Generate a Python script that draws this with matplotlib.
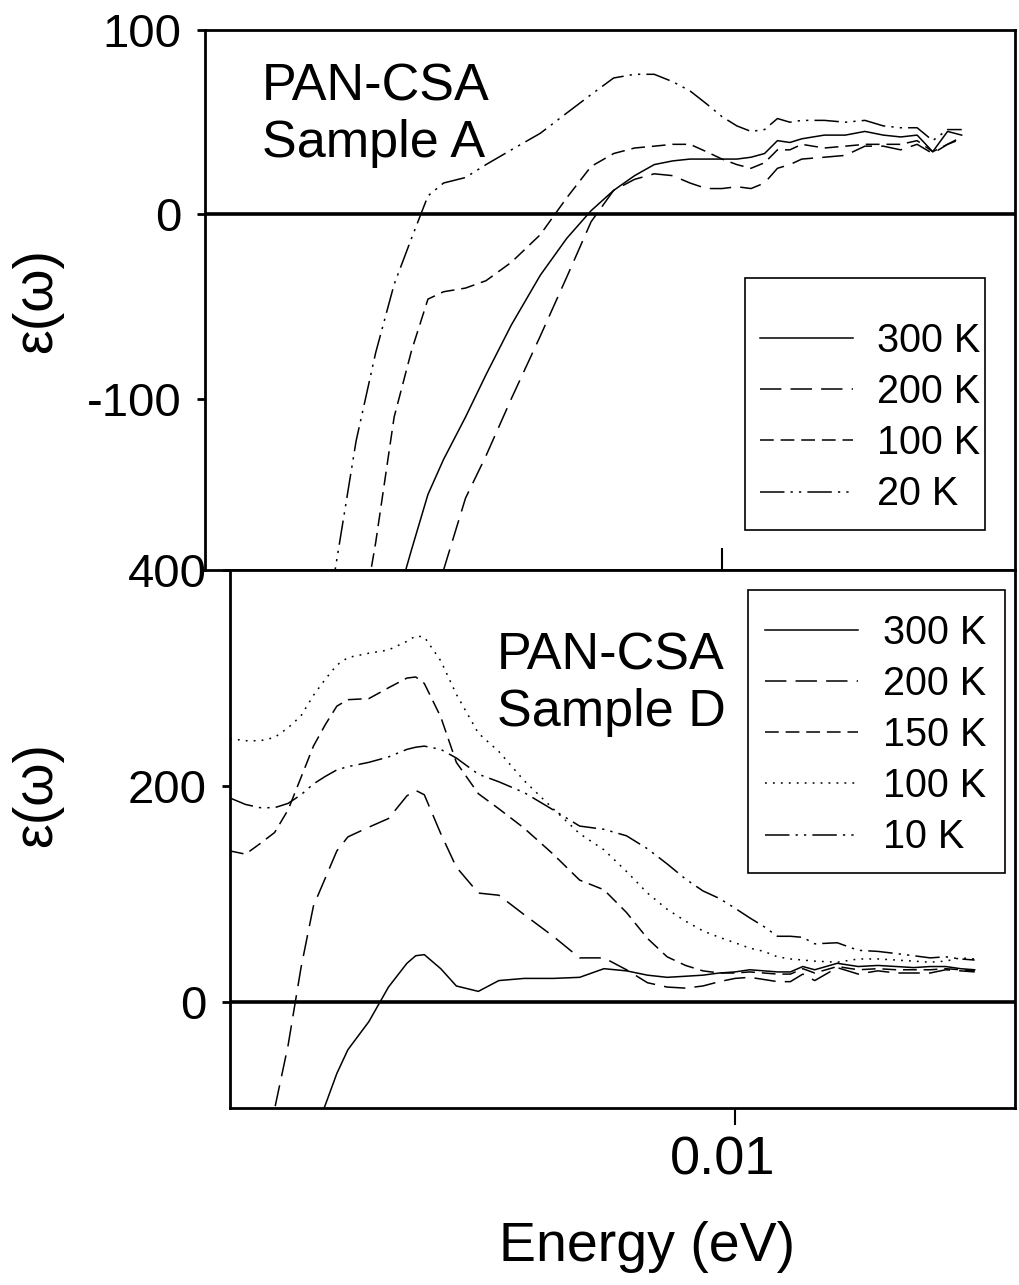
import numpy as np
import matplotlib
matplotlib.use("Agg")
import matplotlib.pyplot as plt
from matplotlib.ticker import NullLocator
from matplotlib.patches import Rectangle
from matplotlib.transforms import ScaledTranslation

plt.rcParams['font.family'] = ['Liberation Sans', 'DejaVu Sans']
plt.rcParams['axes.unicode_minus'] = False

nan = np.nan

# Sample A: energy (eV) and dielectric function at each temperature
E_a = [0.0027, 0.0028, 0.003, 0.0032, 0.0034, 0.0036, 0.0038, 0.004, 0.0043, 0.0046,
       0.005, 0.0055, 0.006, 0.0065, 0.007, 0.0075, 0.008, 0.0085, 0.009, 0.0095,
       0.01, 0.0105, 0.011, 0.0115, 0.012, 0.0125, 0.013, 0.014, 0.015, 0.016,
       0.017, 0.018, 0.019, 0.02, 0.021, 0.022]
eps_a_300 = [nan, nan, nan, -250, -215, -182, -152, -133, -110, -87,
             -60, -33, -13, 2, 13, 21, 27, 29, 30, 30,
             30, 30, 31, 33, 40, 39, 41, 43, 43, 45,
             43, 42, 43, 34, 45, 43]
eps_a_200 = [nan, nan, nan, nan, nan, nan, -225, -193, -154, -131,
             -100, -66, -34, -4, 13, 19, 22, 21, 17, 14,
             14, 15, 14, 17, 25, 27, 30, 31, 32, 37,
             37, 35, 38, 33, 38, 42]
eps_a_100 = [nan, -290, -240, -178, -110, -74, -46, -42, -40, -36,
             -26, -11, 9, 26, 33, 36, 37, 38, 38, 34,
             30, 27, 25, 28, 35, 35, 38, 36, 37, 38,
             38, 38, 40, 34, 38, 41]
eps_a_20 = [-230, -193, -123, -75, -38, -13, 10, 17, 20, 27,
            35, 44, 55, 65, 74, 76, 76, 72, 67, 60,
            53, 48, 45, 46, 52, 50, 51, 51, 50, 51,
            48, 47, 47, 40, 46, 46]

# Sample D
E_d = [0.0019, 0.002, 0.0021, 0.0022, 0.0023, 0.0024, 0.0025, 0.0026, 0.0027, 0.0028,
       0.003, 0.0032, 0.0034, 0.0035, 0.0036, 0.0038, 0.004, 0.0043, 0.0046, 0.005,
       0.0055, 0.006, 0.0065, 0.007, 0.0075, 0.008, 0.0085, 0.009, 0.0095, 0.01,
       0.0105, 0.011, 0.0115, 0.012, 0.0125, 0.013, 0.014, 0.015, 0.016, 0.017,
       0.018, 0.019, 0.02, 0.021, 0.022]
eps_d_300 = [nan, nan, nan, nan, nan, nan, -125, -95, -66, -44,
             -18, 14, 36, 43, 44, 31, 15, 10, 20, 22,
             22, 23, 31, 29, 25, 23, 24, 25, 27, 28,
             30, 29, 28, 28, 33, 30, 36, 33, 34, 33,
             32, 33, 33, 31, 30]
eps_d_200 = [nan, nan, -180, -99, -40, 32, 89, 115, 140, 153,
             162, 170, 191, 196, 192, 156, 125, 101, 99, 81,
             61, 41, 41, 30, 18, 14, 13, 15, 19, 22,
             23, 21, 19, 19, 26, 20, 32, 26, 29, 27,
             27, 27, 30, 29, 28]
eps_d_150 = [140, 137, 147, 157, 178, 208, 237, 257, 274, 280,
             281, 291, 300, 301, 295, 264, 222, 193, 179, 161,
             137, 113, 104, 83, 59, 42, 34, 29, 27, 27,
             28, 27, 26, 26, 31, 27, 33, 30, 31, 30,
             30, 30, 31, 30, 29]
eps_d_100 = [244, 242, 242, 245, 254, 265, 284, 299, 312, 319,
             323, 326, 334, 339, 338, 316, 285, 249, 232, 205,
             179, 156, 141, 121, 101, 86, 75, 66, 60, 55,
             50, 47, 42, 40, 39, 38, 37, 40, 40, 39,
             38, 37, 38, 41, 40]
eps_d_10 = [189, 183, 180, 180, 184, 192, 202, 209, 215, 218,
            222, 227, 234, 236, 237, 234, 226, 211, 204, 194,
            178, 163, 160, 154, 142, 128, 114, 103, 96, 87,
            78, 70, 61, 61, 60, 54, 55, 48, 47, 45,
            43, 41, 42, 40, 39]

solid = '-'
long_dash = (0, (14, 6))
mid_dash = (0, (9, 4.5))
dotted = (0, (1.2, 4))
dash_dot_dot = (0, (16, 4, 1.5, 4, 1.5, 4))

fig = plt.figure(figsize=(10.19, 12.85), dpi=100)
ax1 = fig.add_axes([0.2012, 0.5564, 0.7949, 0.4202])
ax2 = fig.add_axes([0.2257, 0.1377, 0.7704, 0.4187])

lw = 1.1
ax1.plot(E_a, eps_a_300, color='k', lw=lw, ls=solid, label='300 K')
ax1.plot(E_a, eps_a_200, color='k', lw=lw, ls=long_dash, label='200 K')
ax1.plot(E_a, eps_a_100, color='k', lw=lw, ls=mid_dash, label='100 K')
ax1.plot(E_a, eps_a_20, color='k', lw=lw, ls=dash_dot_dot, label='20 K')

ax2.plot(E_d, eps_d_300, color='k', lw=lw, ls=solid, label='300 K')
ax2.plot(E_d, eps_d_200, color='k', lw=lw, ls=long_dash, label='200 K')
ax2.plot(E_d, eps_d_150, color='k', lw=lw, ls=mid_dash, label='150 K')
ax2.plot(E_d, eps_d_100, color='k', lw=lw, ls=dotted, label='100 K')
ax2.plot(E_d, eps_d_10, color='k', lw=lw, ls=dash_dot_dot, label='10 K')

for ax in (ax1, ax2):
    ax.set_xscale('log')
    ax.axhline(0, color='k', lw=2.6, zorder=1)
    ax.set_xticks([0.01])
    ax.xaxis.set_minor_locator(NullLocator())
    for s in ax.spines.values():
        s.set_linewidth(2.0)
    ax.tick_params(axis='y', direction='out', length=6, width=2, pad=11, labelsize=34)

ax1.set_xlim(0.001825, 0.02622)
ax1.set_ylim(-193, 100)
ax1.set_yticks([100, 0, -100])
ax1.tick_params(axis='x', direction='in', length=16, width=1.5, labelbottom=False)

ax2.set_xlim(0.0019, 0.02512)
ax2.set_ylim(-98, 400)
ax2.set_yticks([400, 200, 0])
ax2.set_xticklabels(['0.01'])
ax2.tick_params(axis='x', direction='out', length=12, width=1.5, pad=8, labelsize=39)
for lab in ax2.get_xticklabels():
    lab.set_transform(lab.get_transform() + ScaledTranslation(-0.12, 0, fig.dpi_scale_trans))

ax1.set_ylabel('ε(ω)', fontsize=40)
ax1.yaxis.set_label_coords(-0.175, 0.5)
ax2.set_ylabel('ε(ω)', fontsize=40)
ax2.yaxis.set_label_coords(-0.212, 0.582)
ax2.set_xlabel('Energy (eV)', fontsize=40)
ax2.xaxis.set_label_coords(0.531, -0.21)

ax1.text(0.07, 0.94, 'PAN-CSA\nSample A', transform=ax1.transAxes,
         fontsize=37.5, va='top', ha='left', linespacing=1.2)
ax2.text(0.34, 0.885, 'PAN-CSA\nSample D', transform=ax2.transAxes,
         fontsize=37.5, va='top', ha='left', linespacing=1.2)

# legend frames drawn separately so padding can differ per side
ax1.add_patch(Rectangle((0.667, 0.074), 0.296, 0.467, transform=ax1.transAxes,
                        fill=False, edgecolor='k', lw=1.2, zorder=4))
ax2.add_patch(Rectangle((0.66, 0.437), 0.327, 0.526, transform=ax2.transAxes,
                        fill=False, edgecolor='k', lw=1.2, zorder=4))

leg_kw = dict(fontsize=28.5, frameon=False, handlelength=2.35, handletextpad=0.62,
              borderpad=0, labelspacing=0.33, borderaxespad=0)
leg1 = ax1.legend(loc='upper left', bbox_to_anchor=(0.685, 0.459), **leg_kw)
leg2 = ax2.legend(loc='upper left', bbox_to_anchor=(0.6815, 0.918), **leg_kw)
for leg in (leg1, leg2):
    for line in leg.get_lines():
        line.set_linewidth(1.1)

fig.savefig('out.png', dpi=100)
